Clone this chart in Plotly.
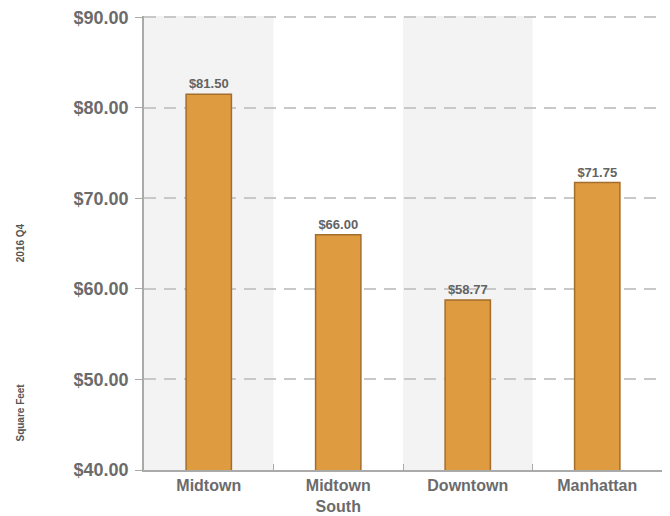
import plotly.graph_objects as go

categories = ["Midtown", "Midtown<br>South", "Downtown", "Manhattan"]
rents = [81.50, 66.00, 58.77, 71.75]
shaded = [0, 2]  # category bands with a grey background

font_fam = "Arial, Liberation Sans, sans-serif"

fig = go.Figure()
fig.add_trace(go.Bar(
    x=categories,
    y=rents,
    width=0.35,
    marker=dict(color="#DE9B40", line=dict(color="#A36E2C", width=1.5)),
    text=["$%.2f" % v for v in rents],
    textposition="outside",
    textfont=dict(family=font_fam, size=13, color="#636363", weight="bold"),
    cliponaxis=False,
    showlegend=False,
))

# grey category bands
for i in shaded:
    fig.add_shape(type="rect", xref="x", yref="paper",
                  x0=i - 0.5, x1=i + 0.5, y0=0, y1=1,
                  fillcolor="#F2F3F2", line_width=0, layer="below")

# rotated side titles
fig.add_annotation(text="<b>Square Feet</b>", xref="paper", yref="paper",
                   x=-0.239, y=0.127, xanchor="center", yanchor="middle",
                   textangle=-90, showarrow=False,
                   font=dict(family=font_fam, size=10, color="#555555"))
fig.add_annotation(text="<b>2016 Q4</b>", xref="paper", yref="paper",
                   x=-0.239, y=0.50, xanchor="center", yanchor="middle",
                   textangle=-90, showarrow=False,
                   font=dict(family=font_fam, size=10, color="#555555"))

# top padded a little so the $90 grid line is not clipped at the edge
fig.update_yaxes(
    range=[40, 90.15], dtick=10,
    tickprefix="$", tickformat=".2f",
    tickfont=dict(family=font_fam, size=18, color="#6B6B6B", weight="bold"),
    showgrid=True, gridcolor="#C8C8C8", griddash="12px,8px", gridwidth=1.5,
    showline=True, linecolor="#AAAAAA", linewidth=1.5,
    ticks="outside", ticklen=7, tickcolor="#AAAAAA", ticklabelstandoff=3,
    ticklabeloverflow="allow", zeroline=False, automargin=False,
)
fig.update_xaxes(
    tickfont=dict(family=font_fam, size=16, color="#6B6B6B", weight="bold"),
    showline=True, linecolor="#AAAAAA", linewidth=1.5,
    ticks="inside", ticklen=6, tickcolor="#AAAAAA", tickson="boundaries",
    showgrid=False, automargin=False,
)
# page body has an 8px margin, so the figure is sized to the remaining window
fig.update_layout(
    width=662, height=508,
    margin=dict(l=136, r=8, t=8, b=46, autoexpand=False),
    plot_bgcolor="white", paper_bgcolor="white",
)

fig.write_html("out.html")
